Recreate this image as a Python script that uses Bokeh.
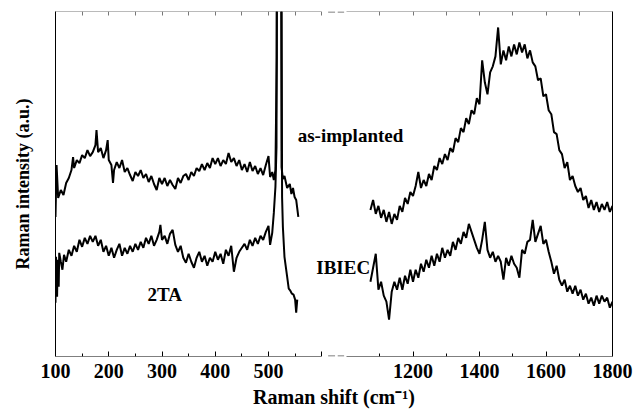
from bokeh.plotting import figure
from bokeh.models import Range1d, LinearAxis, FixedTicker
from bokeh.core.properties import value
from bokeh.embed import file_html
from bokeh.resources import INLINE

# ---------------- data (Raman shift in cm-1, intensity in a.u.) ----------------
AS_LEFT_X = [100, 102, 105, 110, 115, 120, 125, 130, 133, 135, 140, 145, 150, 155, 160, 165, 170, 175, 177,
             180, 185, 190, 195, 198, 200, 205, 208,
             210, 215, 220, 225, 230, 235, 240, 245, 250, 255, 260, 265, 270, 275, 280, 285, 290, 295,
             300, 305, 310, 315, 320, 325, 330, 335, 340, 345, 350, 355, 360, 365, 370, 375, 380, 385,
             390, 395, 400, 405, 410, 415, 420, 425, 430, 435, 440, 445, 450, 455, 460, 465, 470, 475,
             480, 485, 490, 495, 500,
             503, 507, 510, 513, 515.5, 516.5, 523, 524.5, 527, 530, 535, 540, 543, 546, 549, 552, 556]
AS_LEFT_Y = [140, 192, 159, 167, 162, 174, 179, 187, 200, 189, 197, 194, 202, 199, 207, 201, 205, 212, 227,
             205, 209, 199, 207, 217, 197, 192, 174,
             187, 195, 189, 197, 185, 189, 182, 176, 185, 181, 187, 179, 183, 175, 181, 173, 167, 179,
             173, 179, 171, 177, 172, 168, 179, 174, 181, 183, 177, 185, 181, 189, 186, 193, 187, 194,
             189, 199, 193, 199, 191, 197, 193, 204, 195, 199, 191, 197, 187, 193, 185, 195, 186, 191,
             183, 189, 182, 192, 201,
             180, 185, 177, 187, 300, 600, 600, 190, 178, 181, 169, 173, 163, 169, 160, 157, 140]

IB_LEFT_X = [100, 101, 103, 104, 106, 107, 110, 113, 116,
             120, 125, 130, 135, 140, 145, 150, 155, 160, 165, 170, 175, 180, 185, 190, 195,
             200, 205, 210, 215, 220, 225, 230, 235, 240, 245, 250, 255, 260, 265, 270, 275,
             280, 285, 290, 295, 297,
             300, 305, 310, 315, 320, 325, 330, 335, 340, 345, 350, 355, 360, 365, 370, 375,
             380, 385, 390, 395, 400, 405, 410, 415, 420, 425, 430, 435, 440, 445, 450, 455,
             460, 465, 470, 475, 480, 485, 490, 495, 500,
             503, 507, 510, 513, 515, 516.5, 523.5, 525.5, 527, 530, 532, 535, 538, 541, 544,
             547, 550, 552, 554]
IB_LEFT_Y = [54, 100, 60, 97, 70, 104, 95, 87, 102,
             95, 107, 101, 111, 105, 117, 110, 119, 113, 121, 115, 121, 111, 117, 105, 111,
             101, 109, 99, 107, 113, 101, 109, 103, 111, 105, 113, 107, 115, 109, 119, 113,
             121, 111, 117, 125, 132,
             117, 121, 113, 123, 127, 112, 105, 111, 99, 94, 103, 95, 89, 99, 105, 95,
             101, 91, 99, 95, 105, 97, 103, 93, 107, 101, 111, 85, 99, 105, 109, 113,
             107, 117, 111, 119, 113, 121, 117, 125, 131,
             112, 124, 144, 170, 210, 600, 600, 160, 130, 100, 92, 80, 68, 66, 63,
             62, 57, 44, 57]

RIGHT_X = list(range(1072, 1801, 8))
AS_RIGHT_Y = [147, 157, 143, 151, 139, 147, 135, 145, 133, 143, 137, 151, 145, 159, 153, 165, 161,
              171, 185, 169, 177, 171, 183, 177, 191, 187, 199, 193, 203, 197, 209, 205, 219, 215,
              229, 225, 239, 233, 247, 243, 259, 253,
              297, 275, 263, 285, 291, 301, 330, 293, 307, 297, 311, 301, 313, 303, 315, 305, 313,
              299, 307, 295, 291, 277, 279, 261, 263,
              247, 243, 225, 223, 207, 203, 189, 195, 177, 181, 171, 165, 169, 157, 161, 149, 157,
              147, 155, 145, 153, 147, 155, 145, 151]
IB_RIGHT_Y = [75, 89, 103, 67, 75, 61, 55, 37, 65, 75, 67, 79, 67, 81, 73, 87, 75,
              87, 79, 93, 85, 97, 89, 101, 91, 103, 95, 109, 99, 107, 101, 115, 107, 119,
              113, 125, 119, 133, 125, 117, 109, 103,
              117, 135, 107, 99, 105, 95, 101, 95, 77, 99, 91, 101, 93, 89, 79, 107, 103,
              115, 117, 137, 115, 123, 131, 113, 117,
              105, 95, 83, 91, 77, 71, 77, 65, 71, 63, 71, 61, 67, 57, 63, 53, 59,
              51, 61, 53, 61, 55, 59, 49, 55]

LEFT_TICKS = [100, 200, 300, 400, 500, 600]
LEFT_TICK_LABELS = ["100", "200", "300", "400", "500"]
LEFT_MINOR = [150, 250, 350, 450, 550]
RIGHT_TICKS = [1200, 1400, 1600, 1800]
RIGHT_TICK_LABELS = ["1200", "1400", "1600", "1800"]
RIGHT_MINOR = [1100, 1300, 1500, 1700]
LEFT_BOUNDS = (100, 600)
RIGHT_BOUNDS = (1000, 1800)

LABELS = ["as-implanted", "IBIEC", "2TA"]

# ---------------- layout / styling ----------------
FONT = "Liberation Serif"
PX_LEFT = 0.5325    # pixels per cm-1, left segment
PX_RIGHT = 0.3325   # pixels per cm-1, right segment
FRAME_W = 557
Y_TOP = 346
L0 = 100
R0 = 1800 - FRAME_W / PX_RIGHT

p = figure(width=634, height=410, output_backend="svg", toolbar_location=None,
           x_range=Range1d(L0, L0 + FRAME_W / PX_LEFT), y_range=Range1d(0, Y_TOP),
           x_axis_location=None, y_axis_location=None,
           min_border_left=55, min_border_right=22, min_border_top=11, min_border_bottom=53)
p.extra_x_ranges = {"right": Range1d(R0, 1800)}
p.outline_line_color = None
p.xgrid.grid_line_color = None
p.ygrid.grid_line_color = None


def frame_axis(ticks, bounds, loc, range_name, line_color, tlen, show_line=True):
    # unlabeled axis pinned to the frame edge: line + inward ticks (drawn as minor ticks)
    return LinearAxis(ticker=FixedTicker(ticks=[], minor_ticks=ticks), bounds=bounds,
                      fixed_location=loc, x_range_name=range_name,
                      major_tick_in=0, major_tick_out=0, minor_tick_in=tlen, minor_tick_out=0,
                      axis_line_color=line_color if show_line else None, axis_line_width=1,
                      minor_tick_line_color=line_color, major_label_standoff=0)


# bottom edge
p.add_layout(frame_axis(LEFT_TICKS, LEFT_BOUNDS, 0, "default", "black", 5), "below")
p.add_layout(frame_axis(LEFT_MINOR, LEFT_BOUNDS, 0, "default", "black", 3, False), "below")
p.add_layout(frame_axis(RIGHT_TICKS, RIGHT_BOUNDS, 0, "right", "black", 5), "below")
p.add_layout(frame_axis(RIGHT_MINOR, RIGHT_BOUNDS, 0, "right", "black", 3, False), "below")
# top edge
p.add_layout(frame_axis(LEFT_TICKS + LEFT_MINOR, LEFT_BOUNDS, Y_TOP, "default", "#777777", 4), "above")
p.add_layout(frame_axis(RIGHT_TICKS + RIGHT_MINOR, RIGHT_BOUNDS, Y_TOP, "right", "#777777", 4), "above")

# tick labels of both segments on one label axis (right-segment ticks mapped through the scales)
lab_pos = LEFT_TICKS[:5] + [L0 + (t - R0) * PX_RIGHT / PX_LEFT for t in RIGHT_TICKS]
lab_txt = LEFT_TICK_LABELS + RIGHT_TICK_LABELS
xl = LinearAxis(ticker=FixedTicker(ticks=lab_pos, minor_ticks=[]), axis_line_color=None,
                major_tick_in=0, major_tick_out=0, minor_tick_in=0, minor_tick_out=0,
                major_label_overrides={t: s for t, s in zip(lab_pos, lab_txt)},
                major_label_text_font=FONT, major_label_text_font_style="bold",
                major_label_text_font_size="20px", major_label_text_color="black",
                major_label_standoff=7,
                axis_label="Raman shift (cm\u207b\u00b9)", axis_label_standoff=5,
                axis_label_text_font=FONT, axis_label_text_font_style="bold",
                axis_label_text_font_size="20px", axis_label_text_color="black")
p.add_layout(xl, "below")

yl = LinearAxis(ticker=FixedTicker(ticks=[]), axis_line_color="black",
                major_tick_in=0, major_tick_out=0, minor_tick_in=0, minor_tick_out=0,
                major_label_standoff=0,
                axis_label="Raman intensity (a.u.)", axis_label_standoff=23,
                axis_label_text_font=FONT, axis_label_text_font_style="bold",
                axis_label_text_font_size="18px", axis_label_text_color="black")
p.add_layout(yl, "left")
yr = LinearAxis(ticker=FixedTicker(ticks=[]), axis_line_color="black",
                major_tick_in=0, major_tick_out=0, minor_tick_in=0, minor_tick_out=0,
                major_label_standoff=0)
p.add_layout(yr, "right")

# axis-break dashes in the gap
DASH_X0 = [612, 630]
DASH_X1 = [625, 642]
for yy in (0.5, Y_TOP - 0.5):
    p.segment(x0=DASH_X0, y0=[yy, yy], x1=DASH_X1, y1=[yy, yy], line_color="#555555", line_width=1)

# spectra
LW = 2
p.line(AS_LEFT_X, AS_LEFT_Y, line_color="black", line_width=LW)
p.line(IB_LEFT_X, IB_LEFT_Y, line_color="black", line_width=LW)
p.line(RIGHT_X, AS_RIGHT_Y, line_color="black", line_width=LW, x_range_name="right")
p.line(RIGHT_X, IB_RIGHT_Y, line_color="black", line_width=LW, x_range_name="right")

# annotations
txt = dict(text_font=value(FONT), text_font_style="bold", text_font_size="19px",
           text_color="black", text_align="center", text_baseline="alphabetic")
p.text(x=[1012, 990], y=[222, 89], text=LABELS[:2], x_range_name="right", **txt)
p.text(x=[305], y=[62], text=LABELS[2:], **txt)

open("out.html", "w").write(file_html(p, INLINE))
